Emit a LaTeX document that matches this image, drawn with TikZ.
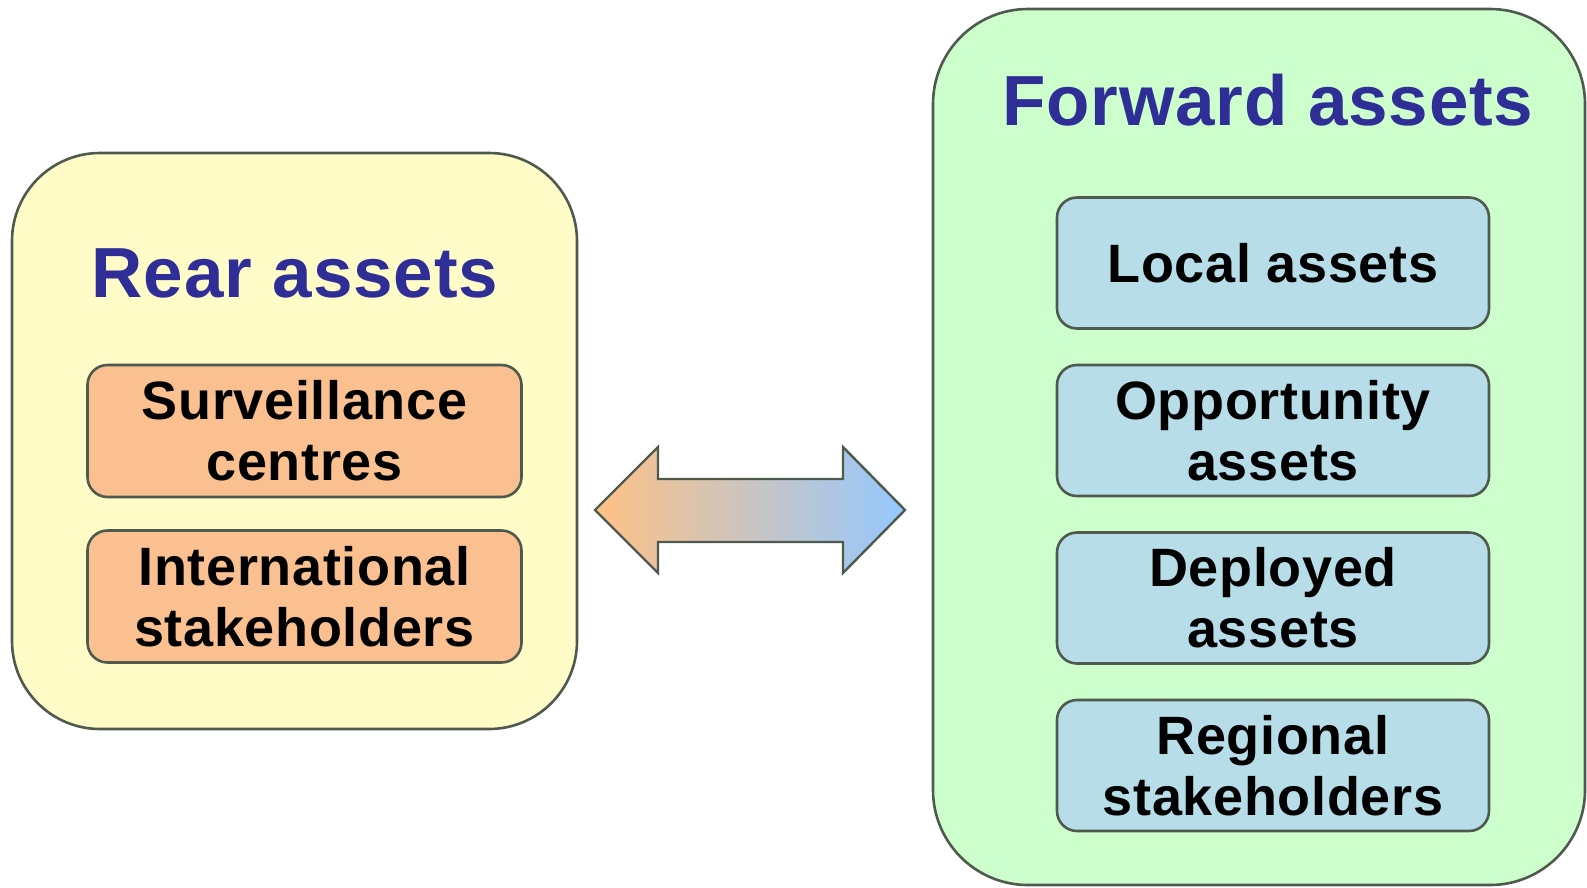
\documentclass[tikz,border=0pt]{standalone}
\usepackage{fontspec}
\setmainfont[LetterSpace=1.2]{Liberation Sans}
\usetikzlibrary{calc}
\definecolor{reary}{HTML}{FFFCC8}
\definecolor{fwdg}{HTML}{CCFFCC}
\definecolor{orng}{HTML}{FAC08F}
\definecolor{lblue}{HTML}{B7DDE8}
\definecolor{ttl}{HTML}{2E2E96}
\definecolor{edge}{HTML}{4F5A4F}
\definecolor{arrL}{HTML}{FFC185}
\definecolor{arrM}{HTML}{DCC4C8}
\definecolor{arrR}{HTML}{94C8FF}
\tikzset{
  bigbox/.style={draw=edge, line width=2.6pt, rounded corners=88pt, inner sep=0pt},
  titletext/.style={font=\fontsize{71}{80}\selectfont\bfseries, text=ttl, anchor=base, inner sep=0pt},
  itembox/.style={draw=edge, line width=2.6pt, rounded corners=20pt, inner sep=0pt,
     minimum width=434pt, align=center, font=\fontsize{54}{61}\selectfont\bfseries, text=black},
  orangebox/.style={itembox, fill=orng, minimum width=434pt, minimum height=132pt},
  bluebox/.style={itembox, fill=lblue, minimum width=432pt, minimum height=131pt},
}
\begin{document}
\begin{tikzpicture}[x=1pt,y=-1pt]
\useasboundingbox (0,0) rectangle (1587,887);
% big containers
\node[bigbox, fill=reary, minimum width=565pt, minimum height=576pt] (rear) at (294.5,441) {};
\node[bigbox, fill=fwdg, minimum width=652pt, minimum height=876pt, rounded corners=95pt] (fwd) at (1259,447) {};
% titles
\node[titletext] (reart) at (295,297) {Rear assets};
\node[titletext] (fwdt) at (1268,125) {Forward assets};
% rear items
\node[orangebox] (surv) at (304.5,431) {Surveillance\\centres};
\node[orangebox] (intl) at (304.5,596.5) {International\\stakeholders};
% forward items
\node[bluebox] (local) at (1273,263) {Local assets};
\node[bluebox] (opp) at (1273,430.5) {Opportunity\\assets};
\node[bluebox] (dep) at (1273,598) {Deployed\\assets};
\node[bluebox] (reg) at (1273,765.5) {Regional\\stakeholders};
% double block arrow
\coordinate (ac) at (750,510);
\draw[draw=edge, line width=2.4pt, line join=miter, left color=arrL, middle color=arrM, right color=arrR]
  ($(ac)+(-155,0)$) -- ($(ac)+(-92,-63)$) -- ($(ac)+(-92,-31)$) -- ($(ac)+(93,-31)$)
  -- ($(ac)+(93,-63)$) -- ($(ac)+(155,0)$) -- ($(ac)+(93,63)$) -- ($(ac)+(93,32)$)
  -- ($(ac)+(-92,32)$) -- ($(ac)+(-92,63)$) -- cycle;
\end{tikzpicture}
\end{document}
